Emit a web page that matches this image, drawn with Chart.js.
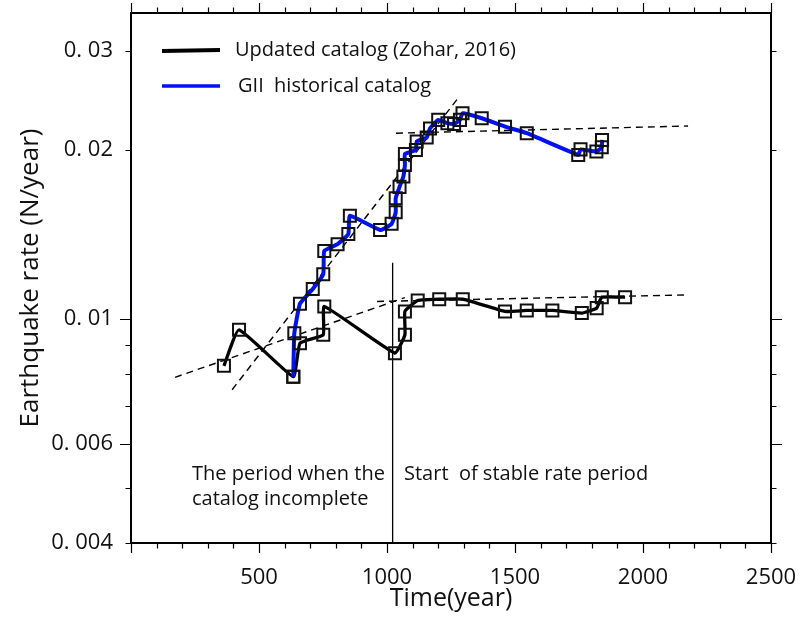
<!DOCTYPE html>
<html lang="en">
<head>
    <meta charset="UTF-8">
    <title>Earthquake rate</title>
    <script src="https://cdn.jsdelivr.net/npm/chart.js"></script>
    <style>
        html, body { margin: 0; padding: 0; background: #fff; }
        #wrap { width: 801px; height: 637px; }
    </style>
</head>
<body>
    <div id="wrap"><canvas id="rateChart" width="801" height="637"></canvas></div>

    <script>
        // Updated catalog (Zohar, 2016)
        const updYears = [363, 422, 634, 660, 751, 755, 1031, 1070, 1070, 1120, 1204, 1296, 1461, 1546, 1646, 1761, 1819, 1839, 1930];
        const updRates = [0.00826, 0.00957, 0.0079, 0.00906, 0.00938, 0.01053, 0.0087, 0.00938, 0.01032, 0.01079, 0.01085, 0.01085, 0.01032, 0.01036, 0.01036, 0.01025, 0.01046, 0.01094, 0.01094];

        // GII historical catalog
        const giiYears = [634, 638, 660, 710, 751, 755, 807, 849, 855, 973, 1018, 1034, 1034, 1049, 1064, 1070, 1070, 1113, 1116, 1155,
                          1168, 1200, 1236, 1262, 1285, 1295, 1370, 1461, 1546, 1747, 1756, 1818, 1839, 1840];
        const giiRates = [0.0079, 0.00944, 0.01065, 0.01131, 0.01202, 0.01322, 0.01359, 0.01417, 0.01526, 0.0144, 0.01477, 0.01548, 0.0164, 0.01718, 0.01792, 0.01879, 0.01966, 0.01998, 0.02068, 0.02103,
                          0.02182, 0.0226, 0.0223, 0.02223, 0.0226, 0.02322, 0.02275, 0.02198, 0.0214, 0.01958, 0.02003, 0.01985, 0.0202, 0.02082];

        // dashed trend lines (end points)
        const updEarlyYears = [172, 1070];
        const updEarlyRates = [0.00788, 0.01092];
        const updLateYears = [961, 2176];
        const updLateRates = [0.01075, 0.01104];
        const giiEarlyYears = [395, 1281];
        const giiEarlyRates = [0.00749, 0.02482];
        const giiLateYears = [1035, 2176];
        const giiLateRates = [0.0214, 0.02204];

        // start of stable rate period
        const stableYears = [1022, 1022];
        const stableRates = [0.004, 0.0126];

        // axes
        const xRange = [0, 2500];
        const xTickStep = 500;
        const xMinorStep = 100;
        const yRange = [0.004, 0.035];
        const yTickLabels = [0.004, 0.006, 0.01, 0.02, 0.03];
        const yLongTicks = [0.006, 0.01];
        const yShortTicks = [0.004, 0.005, 0.007, 0.008, 0.009, 0.02, 0.03];

        const FONT = '"Open Sans", sans-serif';

        function pts(xs, ys) {
            return xs.map((x, i) => ({x: x, y: ys[i]}));
        }

        function dashed(xs, ys) {
            return {
                data: pts(xs, ys),
                borderColor: '#000',
                borderWidth: 1.4,
                borderDash: [7, 5],
                pointRadius: 0,
                order: 5
            };
        }

        // frame and tick marks on all four sides
        const frameTicks = {
            id: 'frameTicks',
            afterDatasetsDraw(chart) {
                const {ctx, chartArea: a, scales: {x, y}} = chart;
                ctx.save();
                ctx.strokeStyle = '#000';
                ctx.lineWidth = 1.2;
                ctx.beginPath();
                for (let v = xRange[0]; v <= xRange[1]; v += xMinorStep) {
                    const px = Math.round(x.getPixelForValue(v)) + 0.5;
                    const len = v % xTickStep === 0 ? 10 : 5.5;
                    ctx.moveTo(px, a.bottom); ctx.lineTo(px, a.bottom + len);
                    ctx.moveTo(px, a.top); ctx.lineTo(px, a.top - len);
                }
                const yTick = (v, len) => {
                    const py = Math.round(y.getPixelForValue(v)) + 0.5;
                    ctx.moveTo(a.left, py); ctx.lineTo(a.left - len, py);
                    ctx.moveTo(a.right, py); ctx.lineTo(a.right + len, py);
                };
                yLongTicks.forEach(v => yTick(v, 11));
                yShortTicks.forEach(v => yTick(v, 5.5));
                ctx.stroke();
                ctx.lineWidth = 2;
                ctx.strokeRect(a.left, a.top, a.right - a.left, a.bottom - a.top);
                ctx.restore();
            }
        };

        // legend and text notes
        const notes = {
            id: 'notes',
            afterDraw(chart) {
                const ctx = chart.ctx;
                ctx.save();
                ctx.lineCap = 'butt';
                ctx.lineWidth = 4;
                ctx.strokeStyle = '#000';
                ctx.beginPath(); ctx.moveTo(162, 51); ctx.lineTo(220, 50); ctx.stroke();
                ctx.lineWidth = 3.5;
                ctx.strokeStyle = '#0010ff';
                ctx.beginPath(); ctx.moveTo(162, 86); ctx.lineTo(220, 86); ctx.stroke();

                ctx.fillStyle = '#111';
                ctx.textBaseline = 'middle';
                ctx.font = '20px ' + FONT;
                ctx.fillText('Updated catalog (Zohar, 2016)', 235, 50);
                ctx.fillText('GII  historical catalog', 238, 86);

                ctx.textBaseline = 'alphabetic';
                ctx.fillText('The period when the', 192, 480);
                ctx.fillText('catalog incomplete', 192, 505);
                ctx.fillText('Start  of stable rate period', 404, 480);
                ctx.restore();
            }
        };

        const ctx = document.getElementById('rateChart').getContext('2d');
        new Chart(ctx, {
            type: 'line',
            data: {
                datasets: [
                    // markers on top of every line
                    {
                        data: pts(giiYears, giiRates),
                        showLine: false,
                        pointStyle: 'rect',
                        pointRadius: 8.5,
                        pointBorderWidth: 2,
                        pointBorderColor: '#111',
                        pointBackgroundColor: 'rgba(0,0,0,0)',
                        order: 0
                    },
                    {
                        data: pts(updYears, updRates),
                        showLine: false,
                        pointStyle: 'rect',
                        pointRadius: 8.5,
                        pointBorderWidth: 2,
                        pointBorderColor: '#111',
                        pointBackgroundColor: 'rgba(0,0,0,0)',
                        order: 0
                    },
                    {
                        data: pts(giiYears, giiRates),
                        borderColor: '#0010ff',
                        borderWidth: 4,
                        tension: 0.12,
                        pointRadius: 0,
                        order: 1
                    },
                    {
                        data: pts(updYears, updRates),
                        borderColor: '#000',
                        borderWidth: 3.3,
                        tension: 0.12,
                        pointRadius: 0,
                        order: 2
                    },
                    dashed(updEarlyYears, updEarlyRates),
                    dashed(updLateYears, updLateRates),
                    dashed(giiEarlyYears, giiEarlyRates),
                    dashed(giiLateYears, giiLateRates),
                    {
                        data: pts(stableYears, stableRates),
                        borderColor: '#000',
                        borderWidth: 1.3,
                        pointRadius: 0,
                        order: 5
                    }
                ]
            },
            options: {
                responsive: false,
                devicePixelRatio: 1,
                animation: false,
                events: [],
                clip: false,
                layout: { padding: { top: 13, right: 30, left: 0, bottom: 0 } },
                plugins: {
                    legend: { display: false },
                    tooltip: { enabled: false }
                },
                scales: {
                    x: {
                        type: 'linear',
                        min: xRange[0],
                        max: xRange[1],
                        grid: { display: false, drawTicks: false },
                        border: { display: false },
                        ticks: {
                            stepSize: xTickStep,
                            padding: 22,
                            color: '#111',
                            font: { family: FONT, size: 22 },
                            maxRotation: 0,
                            callback: v => v === 0 ? '' : String(v)
                        },
                        title: {
                            display: true,
                            text: 'Time(year)',
                            color: '#111',
                            font: { family: FONT, size: 25 },
                            padding: { top: 0, bottom: 23 }
                        },
                        afterFit: s => { s.height = 94; s.paddingLeft = 0; s.paddingRight = 0; }
                    },
                    y: {
                        type: 'logarithmic',
                        min: yRange[0],
                        max: yRange[1],
                        grid: { display: false, drawTicks: false },
                        border: { display: false },
                        afterBuildTicks: s => { s.ticks = yTickLabels.map(v => ({value: v})); },
                        ticks: {
                            padding: 18,
                            autoSkip: false,
                            color: '#111',
                            font: { family: FONT, size: 22 },
                            callback: v => String(v).replace('0.', '0. ')
                        },
                        title: {
                            display: true,
                            text: 'Earthquake rate (N/year)',
                            color: '#111',
                            font: { family: FONT, size: 26 },
                            padding: { top: 15, bottom: 0 }
                        },
                        afterFit: s => { s.width = 131; s.paddingTop = 0; s.paddingBottom = 0; }
                    }
                }
            },
            plugins: [frameTicks, notes]
        });
    </script>
</body>
</html>
